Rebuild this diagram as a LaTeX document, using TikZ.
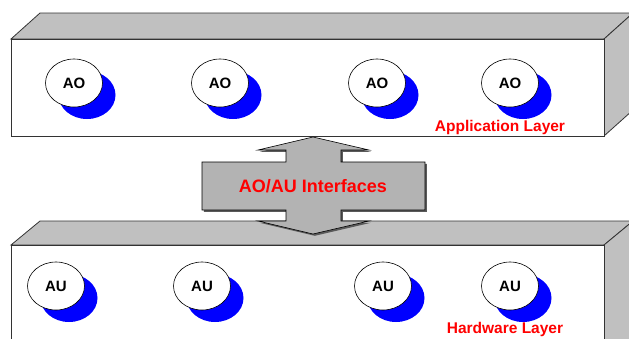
\documentclass[tikz,border=0pt]{standalone}
\usepackage{fontspec}
\setmainfont{Liberation Sans}
\usetikzlibrary{shapes.geometric,shadows}

\definecolor{slabtop}{HTML}{C0C0C0}
\definecolor{slabedge}{HTML}{333333}
\definecolor{pipegray}{HTML}{B3B3B3}
\definecolor{pipeshade}{HTML}{5A5A5A}

\tikzset{
  face/.style={draw=slabedge, line width=0.8pt, line join=miter},
  bubble/.style={ellipse, draw=black, line width=0.6pt, fill=white,
    minimum width=57pt, minimum height=48pt, inner sep=0pt,
    font=\fontsize{15}{15}\selectfont\bfseries,
    drop shadow={shadow xshift=13pt, shadow yshift=-12pt, fill=blue, opacity=1}},
  layername/.style={text=red, font=\fontsize{15.5}{15.5}\selectfont\bfseries}
}

\begin{document}
\begin{tikzpicture}[x=1pt,y=-1pt]
  \useasboundingbox (0,0) rectangle (629,338);
  \clip (0,0) rectangle (629,338);

  % upper slab
  \draw[face, fill=slabtop] (11,39) -- (40,13) -- (633,13) -- (604,39) -- cycle;
  \draw[face, fill=slabtop] (604,39) -- (633,13) -- (633,110) -- (604,136) -- cycle;
  \draw[face, fill=white] (11,39) rectangle (604,136);

  % lower slab
  \draw[face, fill=slabtop] (11,245) -- (40,221) -- (633,221) -- (604,245) -- cycle;
  \draw[face, fill=slabtop] (604,245) -- (633,221) -- (633,360) -- (604,370) -- cycle;
  \draw[face, fill=white] (11,245) rectangle (604,370);

  % objects on the application side
  \foreach \x [count=\i] in {74,220,377,510} {
    \node[bubble] (ao\i) at (\x,83) {AO};
  }
  \node[layername] (applayer) at (500,127) {Application Layer};

  % units on the hardware side
  \foreach \x [count=\i] in {56,202,383,510} {
    \node[bubble] (au\i) at (\x,286) {AU};
  }
  \node[layername] (hwlayer) at (505,329) {Hardware Layer};

  % double arrow between the layers
  \def\pipe{(313,137) -- (369,150) -- (341,150) -- (341,162) -- (425,162)
    -- (425,210) -- (341,210) -- (341,221) -- (369,221) -- (313,234)
    -- (258,221) -- (286,221) -- (286,210) -- (202,210) -- (202,162)
    -- (286,162) -- (286,150) -- (258,150) -- cycle}
  \fill[pipeshade, shift={(1.8pt,-1.8pt)}] \pipe;
  \draw[black, line width=0.6pt, fill=pipegray] \pipe;
  \node[text=red, font=\fontsize{18}{18}\selectfont\bfseries] (iface) at (313,186) {AO/AU Interfaces};
\end{tikzpicture}
\end{document}
